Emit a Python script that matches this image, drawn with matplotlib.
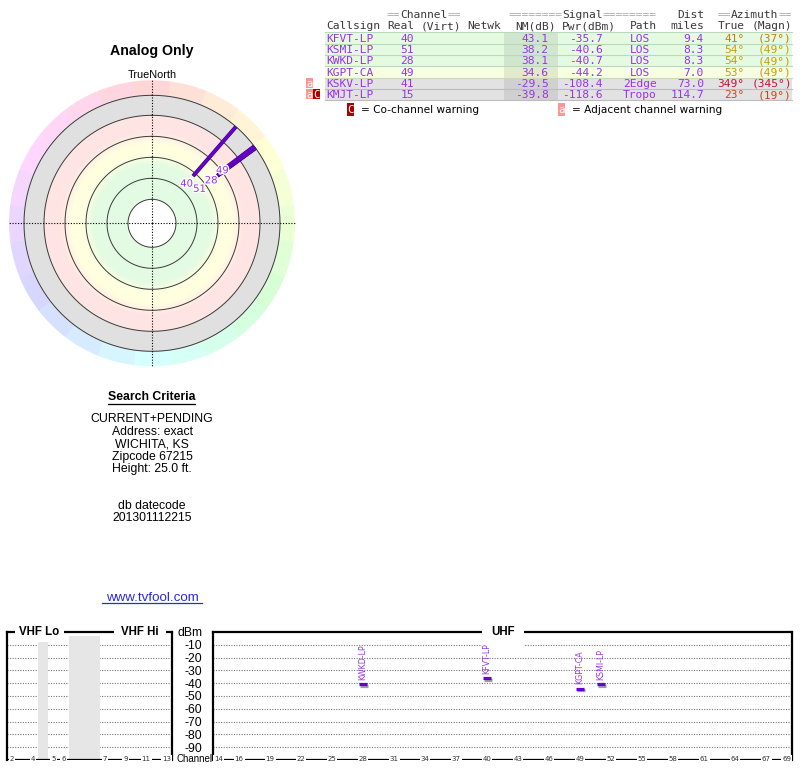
import re
import colorsys
import numpy as np
import matplotlib
matplotlib.use("Agg")
import matplotlib.pyplot as plt
import matplotlib.patheffects as pe
import matplotlib.transforms as mtransforms
from matplotlib.patches import Rectangle

# ---------------- data ----------------
callsigns = ['KFVT-LP', 'KSMI-LP', 'KWKD-LP', 'KGPT-CA', 'KSKV-LP', 'KMJT-LP']
real_ch = [40, 51, 28, 49, 41, 15]
virt_ch = ['', '', '', '', '', '']
netwk = ['', '', '', '', '', '']
nm_db = [43.1, 38.2, 38.1, 34.6, -29.5, -39.8]
pwr_dbm = [-35.7, -40.6, -40.7, -44.2, -108.4, -118.6]
path_type = ['LOS', 'LOS', 'LOS', 'LOS', '2Edge', 'Tropo']
dist_mi = [9.4, 8.3, 8.3, 7.0, 73.0, 114.7]
az_true = [41, 54, 54, 53, 349, 23]
az_magn = [37, 49, 49, 49, 345, 19]
warnings = ['', '', '', '', 'a', 'aC']

vhf_tick_channels = [2, 4, 5, 6, 7, 9, 11, 13]
uhf_tick_channels = [14, 16, 19, 22, 25, 28, 31, 34, 37, 40, 43, 46, 49, 52,
                     55, 58, 61, 64, 67, 69]
dbm_ticks = [-10, -20, -30, -40, -50, -60, -70, -80, -90]

title_text = 'Analog Only'
criteria_lines = ['CURRENT+PENDING', 'Address: exact', 'WICHITA, KS',
                  'Zipcode 67215', 'Height: 25.0 ft.']
datecode_lines = ['db datecode', '201301112215']
link_text = 'www.tvfool.com'

# ---------------- layout / style ----------------
W, H = 800, 768
SANS = 'Liberation Sans'
MONO = 'DejaVu Sans Mono'
PURPLE_TXT = '#9933ee'
PURPLE_LINE = '#6600cc'
GREEN, YELLOW, PINK, GRAY = '#e2fbe2', '#ffffe0', '#ffe4e4', '#e0e0e0'

fig = plt.figure(figsize=(8, 7.68), dpi=100)
fig.patch.set_facecolor('white')


def fbox(x0, y0, x1, y1):
    return [x0 / W, 1 - y1 / H, (x1 - x0) / W, (y1 - y0) / H]


# overlay axes in pixel coordinates (y down)
axt = fig.add_axes([0, 0, 1, 1])
axt.set_xlim(0, W)
axt.set_ylim(H, 0)
axt.axis('off')

# ---------------- table ----------------
x0, cw, fs_mono = 326, 6.75, 8.07


def mono_runs(line, y, color, pattern=r'\S+'):
    for m in re.finditer(pattern, line):
        axt.text(x0 + m.start() * cw, y, m.group(), family=MONO, size=fs_mono,
                 color=color, va='baseline', ha='left')


header1 = "         ==Channel==       ========Signal========   Dist  ==Azimuth=="
header2 = "Callsign Real (Virt) Netwk  NM(dB) Pwr(dBm)  Path  miles  True (Magn)"
mono_runs(header1, 18.3, '#aaaaaa', r'=+')
mono_runs(header1, 18.3, '#3a3a3a', r'[^=\s]+')
mono_runs(header2, 29.3, '#3a3a3a')

row_top0, row_h = 32.3, 11.3
tab_l, tab_r = 325, 792
nm_l, nm_r = 504, 557.7


def row_colors(nm):
    if nm >= 35:
        return '#e4fbe2', '#d0e6ce', '#bcd8bc'
    if nm >= 20:
        return '#f6ffe2', '#e2eacc', '#ccd8bc'
    if nm >= 0:
        return '#ffe6e6', '#ecd2d2', '#d8bcbc'
    return '#e2e2e2', '#d0d0d0', '#bdbdbd'


def az_color(a):
    h = ((a % 360) / 360.0) ** 1.1
    return colorsys.hsv_to_rgb(h, 0.92, 0.8)


def field(text, start, width, align, y, color):
    if not text:
        return
    if align == 'left':
        x, ha = x0 + start * cw, 'left'
    elif align == 'right':
        x, ha = x0 + (start + width) * cw, 'right'
    else:
        x, ha = x0 + (start + width / 2.0) * cw, 'center'
    axt.text(x, y, text, family=MONO, size=fs_mono, color=color, va='baseline',
             ha=ha)


for i in range(len(callsigns)):
    top = row_top0 + i * row_h
    bg, shade, edge = row_colors(nm_db[i])
    axt.add_patch(Rectangle((tab_l, top), tab_r - tab_l, row_h, facecolor=bg,
                            edgecolor='none'))
    axt.add_patch(Rectangle((nm_l, top), nm_r - nm_l, row_h, facecolor=shade,
                            edgecolor='none'))
    axt.plot([tab_l, tab_r], [top + row_h, top + row_h], color=edge, lw=0.8)
    if i == 0:
        axt.plot([tab_l, tab_r], [top, top], color=edge, lw=0.8)
    base = top + 9.4
    field(callsigns[i], 0, 8, 'left', base, PURPLE_TXT)
    field(str(real_ch[i]), 9, 4, 'right', base, PURPLE_TXT)
    field(virt_ch[i], 14, 6, 'right', base, PURPLE_TXT)
    field(netwk[i], 21, 5, 'right', base, PURPLE_TXT)
    field(f"{nm_db[i]:.1f}", 28, 5, 'right', base, PURPLE_TXT)
    field(f"{pwr_dbm[i]:.1f}", 35, 6, 'right', base, PURPLE_TXT)
    field(path_type[i], 44, 5, 'center', base, PURPLE_TXT)
    field(f"{dist_mi[i]:.1f}", 51, 5, 'right', base, PURPLE_TXT)
    acol = az_color(az_true[i])
    field(f"{az_true[i]}°", 58, 4, 'right', base, acol)
    field(f"({az_magn[i]}°)", 63, 6, 'right', base, acol)
    # warning badges
    bx = 306.0
    for ch in warnings[i]:
        fc = '#ff9494' if ch == 'a' else '#aa0000'
        axt.add_patch(Rectangle((bx, top + 0.6), 6.9, row_h - 1.2, facecolor=fc,
                                edgecolor='none'))
        axt.text(bx + 3.45, base, ch, family=MONO, size=7.6, color='white',
                 ha='center', va='baseline')
        bx += 6.9

# legend
for bxl, ch, fc, txt, tx in [(346.7, 'C', '#aa0000', '= Co-channel warning', 361),
                              (557.7, 'a', '#ff9494', '= Adjacent channel warning', 571.7)]:
    axt.add_patch(Rectangle((bxl, 103), 6.8, 12.5, facecolor=fc, edgecolor='none'))
    axt.text(bxl + 3.4, 113.3, ch, family=MONO, size=7.8, color='white',
             ha='center', va='baseline')
    axt.text(tx, 113.3, txt, family='DejaVu Sans', size=7.6, color='black',
             va='baseline')

# ---------------- polar radar ----------------
cx, cy, R = 152, 223.3, 145
axp = fig.add_axes(fbox(cx - R, cy - R, cx + R, cy + R), projection='polar')
axp.set_theta_zero_location('N')
axp.set_theta_direction(-1)
axp.axis('off')

# hue ring
for k in range(24):
    az = k * 15
    rgb = colorsys.hsv_to_rgb(az / 360.0, 1, 1)
    pastel = [1 - 0.16 * (1 - c) for c in rgb]
    axp.bar(np.deg2rad(az), 15, width=np.deg2rad(15.2), bottom=128,
            color=pastel, edgecolor='none', align='center', zorder=1)

# radial colour bands
stops_r = [24, 58, 69, 80, 92, 108]
stops_c = [GREEN, GREEN, YELLOW, YELLOW, PINK, PINK]
stops_rgb = np.array([matplotlib.colors.to_rgb(c) for c in stops_c])
for r in np.arange(24, 108, 1.0):
    col = [np.interp(r + 0.5, stops_r, stops_rgb[:, j]) for j in range(3)]
    axp.bar(0, 1.6, width=2 * np.pi, bottom=r, color=col, edgecolor='none',
            align='center', zorder=2)
axp.bar(0, 20.5, width=2 * np.pi, bottom=108, color=GRAY, edgecolor='none',
        align='center', zorder=2)

th = np.linspace(0, 2 * np.pi, 721)
for rr in [24, 45, 66, 87, 108, 128]:
    axp.plot(th, np.full_like(th, rr), color='#3a3a3a', lw=0.7, zorder=3)

for a in [0, 90, 180, 270]:
    axp.plot([np.deg2rad(a)] * 2, [0, 144], color='black', lw=0.8,
             linestyle=(0, (1, 1.5)), zorder=4)


def radar_r(nm):
    return 62.6 + (43.1 - nm) * 3.7


label_inset = {40: 10, 51: 22, 28: 8, 49: 6}
for i in range(len(callsigns)):
    if nm_db[i] <= 0:
        continue
    t = np.deg2rad(az_true[i])
    r0 = radar_r(nm_db[i])
    axp.plot([t, t], [r0, 128], color=PURPLE_LINE, lw=2.2, solid_capstyle='butt',
             zorder=5,
             path_effects=[pe.Stroke(linewidth=2.8, foreground='#3a0070'), pe.Normal()])
for i in range(len(callsigns)):
    if nm_db[i] <= 0:
        continue
    t = np.deg2rad(az_true[i])
    rl = radar_r(nm_db[i]) - label_inset.get(real_ch[i], 8)
    axp.text(t, rl, str(real_ch[i]), color=PURPLE_TXT, fontsize=7.2,
             family='DejaVu Sans', ha='center', va='center', zorder=6,
             path_effects=[pe.withStroke(linewidth=2, foreground='white')])

axp.set_ylim(0, R)

axt.text(cx, 51, title_text, family=SANS, weight='bold', size=10.2,
         ha='center', va='center')
axt.text(cx, 74.5, 'TrueNorth', family=SANS, size=7.8, ha='center', va='center')
axt.text(164.7, 90, 'N', family=SANS, size=7.6, color='red', ha='center', va='center')

# ---------------- search criteria ----------------
axt.text(cx, 397.3, 'Search Criteria', family=SANS, weight='bold', size=8.8,
         ha='center', va='center')
axt.plot([108.3, 195], [403.6, 403.6], color='black', lw=0.9)
for k, line in enumerate(criteria_lines):
    axt.text(cx, 419.3 + k * 12.5, line, family=SANS, size=8.8, ha='center',
             va='center')
for k, line in enumerate(datecode_lines):
    axt.text(cx, 506 + k * 12.3, line, family=SANS, size=8.8, ha='center',
             va='center')
axt.text(cx, 598.3, link_text, family=SANS, size=9.6, color='#2a2ad8',
         ha='center', va='center')
axt.plot([102.3, 201.7], [603.2, 603.2], color='#2a2ad8', lw=0.9)

# ---------------- spectrum panels ----------------
vhf_slot = {2: 0, 3: 1, 4: 2, 5: 4, 6: 5, 7: 9, 8: 10, 9: 11, 10: 12, 11: 13,
            12: 14, 13: 15}
vhf_gaps = [(3, 4), (6, 9)]
BOTTOM = -99.2
YMIN = -100

axv = fig.add_axes(fbox(7, 632, 172, 760))
axu = fig.add_axes(fbox(213.2, 632, 791.9, 760))
axv.set_xlim(0, 16)
axu.set_xlim(13.5, 69.5)
for ax in (axv, axu):
    ax.set_ylim(YMIN, 0)
    ax.spines['bottom'].set_visible(False)
    for sp in ('left', 'right', 'top'):
        ax.spines[sp].set_linewidth(1.6)
        ax.spines[sp].set_color('black')
    ax.set_xticks([])
    for d in dbm_ticks:
        ax.axhline(d, color='#777777', lw=0.8, linestyle=(0, (1, 1.3)), zorder=1)
    ax.axhline(BOTTOM, color='black', lw=0.9, zorder=2)
axv.set_yticks([])

for g0, g1 in vhf_gaps:
    axv.axvspan(g0, g1, ymin=0.008, ymax=0.969, color='#e6e6e6', lw=0, zorder=1.5)

lab_kw = dict(family='DejaVu Sans', size=5, color='#333333', ha='center',
              va='center', zorder=3,
              bbox=dict(facecolor='white', edgecolor='none', pad=0.7))
for ch in vhf_tick_channels:
    axv.text(vhf_slot[ch] + 0.5, BOTTOM, str(ch), **lab_kw)
for ch in uhf_tick_channels:
    axu.text(ch, BOTTOM, str(ch), **lab_kw)

band_kw = dict(family=SANS, weight='bold', size=8.3, ha='center', va='center',
               zorder=4, clip_on=False)
axv.text(3.15, 0, 'VHF Lo', bbox=dict(facecolor='white', edgecolor='none',
                                      pad=3.0), **band_kw)
axv.text(12.9, 0, 'VHF Hi', bbox=dict(facecolor='white', edgecolor='none',
                                      pad=5.0), **band_kw)
axu.text(41.55, 0, 'UHF', bbox=dict(facecolor='white', edgecolor='none',
                                    pad=6.5), **band_kw)

axu.set_yticks([0] + dbm_ticks)
axu.set_yticklabels(['dBm'] + [str(d) for d in dbm_ticks])
axu.tick_params(axis='y', length=0, pad=8, labelsize=8.7)
for lab in axu.get_yticklabels():
    lab.set_family(SANS)
tr = mtransforms.blended_transform_factory(fig.transFigure, axu.transData)
axu.text(194.5 / W, BOTTOM, 'Channel', transform=tr, family=SANS, size=7.0,
         ha='center', va='center', clip_on=False)

for i in range(len(callsigns)):
    if pwr_dbm[i] < YMIN:
        continue  # below the plotted signal range
    ch = real_ch[i]
    ax = axu if ch >= 14 else axv
    xc = ch if ch >= 14 else vhf_slot[ch] + 0.5
    ax.hlines(pwr_dbm[i], xc - 0.39, xc + 0.39, color=PURPLE_LINE, lw=2.3,
              zorder=5,
              path_effects=[pe.SimpleLineShadow(offset=(0.7, -1.3),
                                                shadow_color='#777777', alpha=0.7),
                            pe.Normal()])
    ax.text(xc, pwr_dbm[i] + 3.2, callsigns[i], rotation=90, ha='center',
            va='bottom', family='DejaVu Sans', size=5.7, color=PURPLE_TXT,
            zorder=5)

fig.savefig('out.png', dpi=100)
